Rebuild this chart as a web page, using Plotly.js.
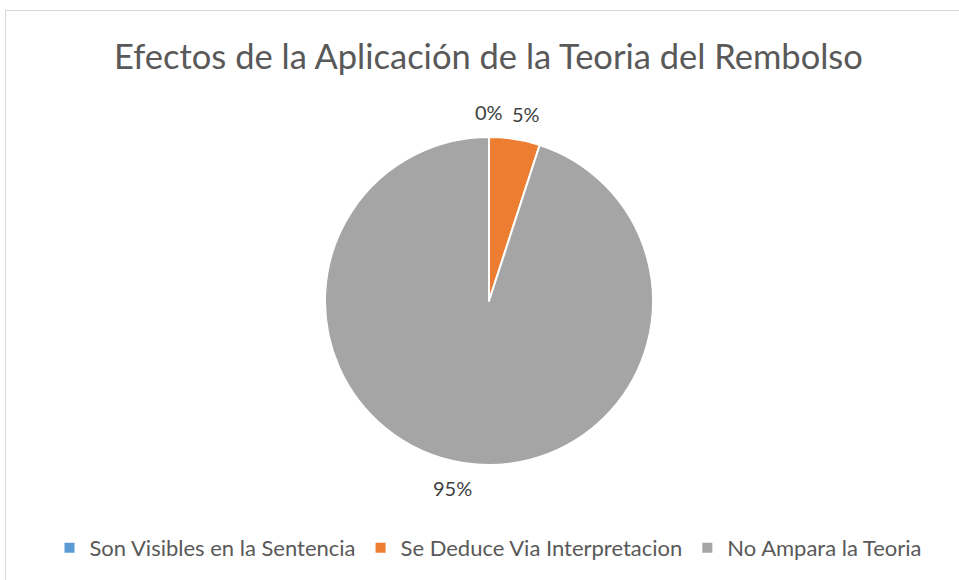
<!DOCTYPE html>
<html><head><meta charset="utf-8">
<script src="https://cdn.plot.ly/plotly-3.0.1.min.js"></script>
<style>
html,body{margin:0;padding:0;background:#fff;}
#wrap{position:relative;width:959px;height:580px;overflow:hidden;}
#chart{position:absolute;left:0;top:0;width:959px;height:580px;}
#frame{position:absolute;left:5px;top:10px;width:980px;height:600px;border-top:1px solid #d9d9d9;border-left:1px solid #d9d9d9;pointer-events:none;}
</style></head>
<body><div id="wrap"><div id="chart"></div><div id="frame"></div></div>
<script>
const categories = ["Son Visibles en la Sentencia", "Se Deduce Via Interpretacion", "No Ampara la Teoria"];
const values = [0, 5, 95];
const colors = ["#5B9BD5", "#ED7D31", "#A5A5A5"];
const titleText = "Efectos de la Aplicación de la Teoria del Rembolso";

const W = 959, H = 580;
const cx = 489, cy = 301, r = 164;
const FONT = "Lato, 'Noto Sans', sans-serif";

const trace = {
  type: "pie",
  labels: categories,
  values: values,
  marker: {colors: colors, line: {color: "#ffffff", width: 2}},
  sort: false,
  direction: "clockwise",
  rotation: 0,
  textinfo: "none",
  hoverinfo: "label+percent",
  domain: {x: [(cx - r) / W, (cx + r) / W], y: [1 - (cy + r) / H, 1 - (cy - r) / H]},
  automargin: false,
  showlegend: true
};

// data labels placed outside each slice, computed from the values
const total = values.reduce((a, b) => a + b, 0);
const annotations = [];
let cum = 0;
values.forEach((v, i) => {
  const mid = (cum + v / 2) / total * 2 * Math.PI;
  cum += v;
  const R = r + 25;
  const s = Math.sin(mid), c = Math.cos(mid);
  const px = cx + R * s + (Math.abs(s) > 0.05 ? Math.sign(s) * 7 : 0);
  const py = cy - R * c;
  annotations.push({
    xref: "paper", yref: "paper",
    x: px / W, y: 1 - py / H, xanchor: "center", yanchor: "middle",
    text: Math.round(v / total * 100) + "%",
    showarrow: false,
    font: {family: FONT, size: 20, color: "#404040"}
  });
});

const layout = {
  width: W, height: H,
  margin: {l: 0, r: 0, t: 0, b: 0},
  paper_bgcolor: "#ffffff",
  font: {family: FONT, color: "#595959"},
  title: {text: titleText, font: {size: 34.5, color: "#595959", family: FONT},
          x: 488.5 / W, xanchor: "center", y: 1 - 57 / H, yanchor: "middle", yref: "container", xref: "paper"},
  legend: {orientation: "h", x: 488 / W, xanchor: "center", y: 1 - 548 / H, yanchor: "middle",
           font: {size: 22, color: "#595959"}, traceorder: "normal"},
  annotations: annotations,
  showlegend: true
};

Plotly.newPlot("chart", [trace], layout, {displayModeBar: false, staticPlot: true});
</script></body></html>
